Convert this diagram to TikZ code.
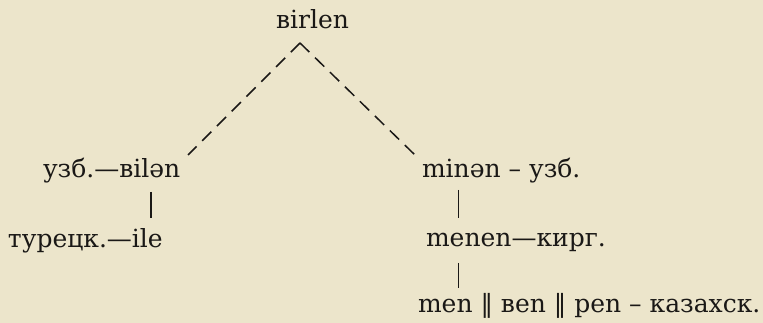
\documentclass[tikz,border=0pt]{standalone}
\usepackage{fontspec}
\setmainfont{DejaVu Serif}
\usetikzlibrary{calc}
\definecolor{paper}{RGB}{236,229,203}
\definecolor{ink}{RGB}{26,24,22}
\begin{document}
\begin{tikzpicture}[x=1pt,y=1pt,
  word/.style={inner sep=0pt, outer sep=0pt, anchor=base west,
    font=\fontsize{25}{29}\selectfont, text=ink},
  link/.style={draw=ink, line width=1.5pt},
  branch/.style={link, dash pattern=on 13pt off 7.9pt}]
\fill[paper] (0,0) rectangle (763,323);
\useasboundingbox (0,0) rectangle (763,323);

% root form
\node[word] (root) at (276,294) {ʙirlen};
\coordinate (apex) at (300,280);

% left branch
\node[word] (uzbL) at (43,145) {узб.—};
\node[word] (bilen) at (uzbL.base east) {ʙilən};
\node[word] (tur) at (8,75) {турецк.—};
\node[word] (ile) at (tur.base east) {ile};
\coordinate (lend) at (188,168);

% right branch
\node[word] (minen) at (422,145) {minən};
\node[word] (uzbR) at (minen.base east) {\ – узб.};
\node[word] (menen) at (426,76) {menen};
\node[word] (kirg) at (menen.base east) {—кирг.};
\node[word] (men) at (418,10) {men ‖ ʙen ‖ pen};
\node[word] (kaz) at (men.base east) {\ – казахск.};
\coordinate (rend) at (415,168);

% dashed branches from the root
\draw[branch] (apex) -- (lend);
\draw[branch] (apex) -- (rend);

% vertical links
\draw[link] ($(bilen.base)+(1,-14)$) -- ($(bilen.base |- ile.base)+(1,30)$);
\draw[link] ($(minen.base)+(-3,-12)$) -- ($(minen.base |- menen.base)+(-3,29)$);
\draw[link] ($(minen.base |- menen.base)+(-3,-16)$) -- ($(minen.base |- men.base)+(-3,25)$);
\end{tikzpicture}
\end{document}
